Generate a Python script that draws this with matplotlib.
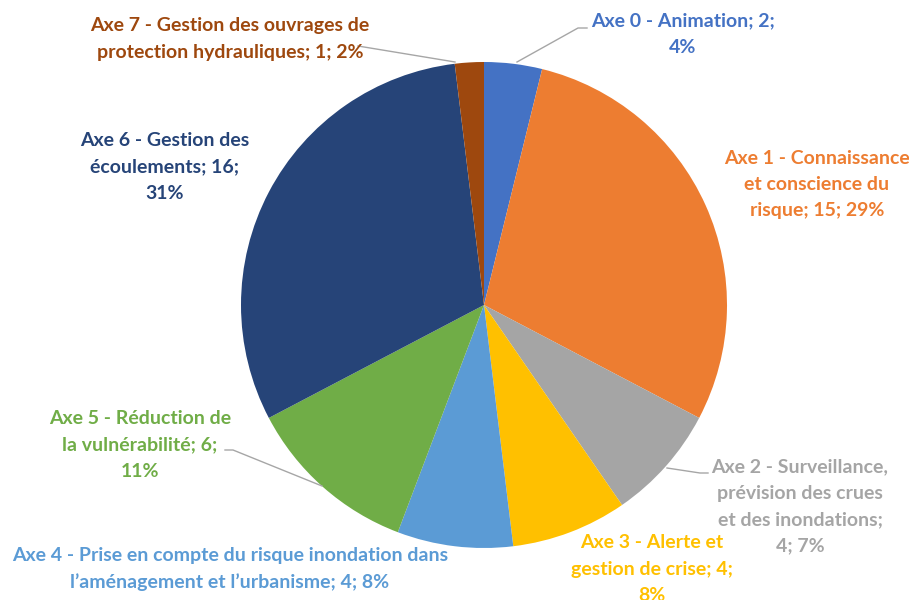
import matplotlib
matplotlib.use("Agg")
import matplotlib.pyplot as plt

categories = [
    "Axe 0 - Animation",
    "Axe 1 - Connaissance et conscience du risque",
    "Axe 2 - Surveillance, prévision des crues et des inondations",
    "Axe 3 - Alerte et gestion de crise",
    "Axe 4 - Prise en compte du risque inondation dans l’aménagement et l’urbanisme",
    "Axe 5 - Réduction de la vulnérabilité",
    "Axe 6 - Gestion des écoulements",
    "Axe 7 - Gestion des ouvrages de protection hydrauliques",
]
values = [2, 15, 4, 4, 4, 6, 16, 1]
percents = [4, 29, 7, 8, 8, 11, 31, 2]
colors = ["#4472C4", "#ED7D31", "#A5A5A5", "#FFC000", "#5B9BD5", "#70AD47", "#264478", "#9E480E"]

# label layout (pixel coords, line breaks)
label_lines = [
    ["Axe 0 - Animation; 2;", "4%"],
    ["Axe 1 - Connaissance", "et conscience du", "risque; 15; 29%"],
    ["Axe 2 - Surveillance,", "prévision des crues", "et des inondations;", "4; 7%"],
    ["Axe 3 - Alerte et", "gestion de crise; 4;", "8%"],
    ["Axe 4 - Prise en compte du risque inondation dans", "l’aménagement et l’urbanisme; 4; 8%"],
    ["Axe 5 - Réduction de", "la vulnérabilité; 6;", "11%"],
    ["Axe 6 - Gestion des", "écoulements; 16;", "31%"],
    ["Axe 7 - Gestion des ouvrages de", "protection hydrauliques; 1; 2%"],
]
label_pos = [(683, 21), (817, 158), (800, 467), (652, 543), (230, 556), (140, 419), (165, 141), (230, 26)]
leaders = {
    0: [(517, 62), (578, 28), (587, 28)],
    2: [(667, 468), (700, 473), (708, 473)],
    5: [(322, 486), (233, 450), (225, 450)],
    7: [(455, 62), (358, 46)],
}

W, H = 909, 600
fig = plt.figure(figsize=(W / 100, H / 100), dpi=100)
ax = fig.add_axes([0, 0, 1, 1])

cx, cy, r = 484, 305, 243
ax.pie(values, colors=colors, startangle=90, counterclock=False,
       center=(cx, H - cy), radius=r, frame=True,
       wedgeprops=dict(linewidth=0))
ax.set_xlim(0, W)
ax.set_ylim(0, H)
ax.set_aspect("equal")
ax.axis("off")

for i, lines in enumerate(label_lines):
    x, y0 = label_pos[i]
    for j, ln in enumerate(lines):
        ax.text(x, H - (y0 + 26.2 * j), ln, ha="center", va="center",
                color=colors[i], fontsize=14, fontweight="bold", family="Lato")

for i, pts in leaders.items():
    xs = [p[0] for p in pts]
    ys = [H - p[1] for p in pts]
    ax.plot(xs, ys, color="#A6A6A6", lw=1)

fig.savefig("out.png", dpi=100)
